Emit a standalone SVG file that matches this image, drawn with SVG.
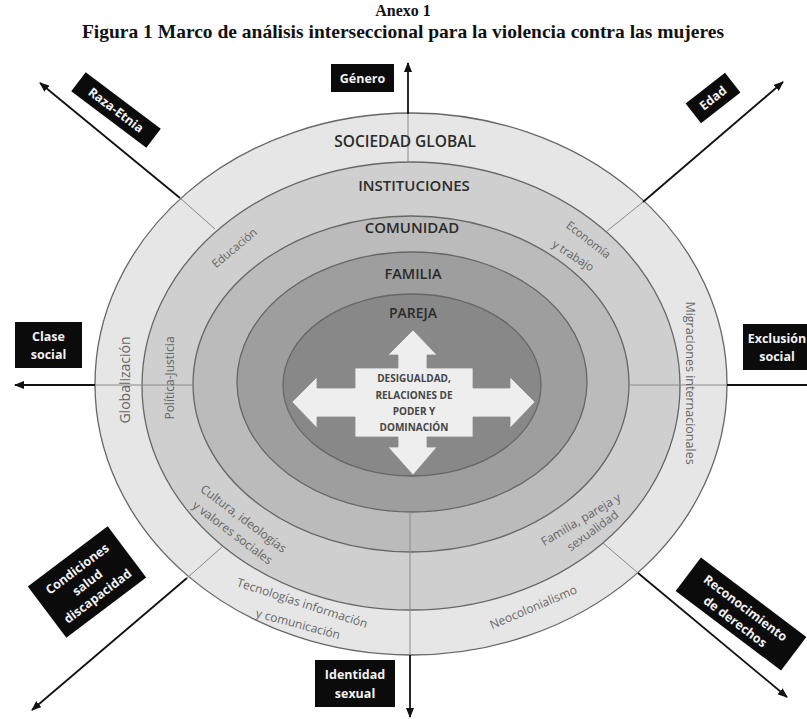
<svg xmlns="http://www.w3.org/2000/svg" width="807" height="719" viewBox="0 0 807 719">
<defs>
<marker id="ah" markerUnits="userSpaceOnUse" markerWidth="10" markerHeight="8" refX="9" refY="4" orient="auto">
<path d="M0,0 L10,4 L0,8 z" fill="#111"/>
</marker>
</defs>
<style>
.title{font-family:"Liberation Serif","Times New Roman",serif;font-weight:bold;fill:#111;text-anchor:middle}
.ring{fill-opacity:1;stroke:#666;stroke-width:1.3}
.lvl{font-family:"Open Sans","Liberation Sans",sans-serif;font-weight:600;fill:#2b2b2b;text-anchor:middle}
.sub{font-family:"Open Sans","Liberation Sans",sans-serif;fill:#666;text-anchor:middle}
.box{fill:#0b0b0b}
.bt{font-family:"Open Sans","Liberation Sans",sans-serif;font-weight:700;fill:#f2f2f2;text-anchor:middle;font-size:12.5px}
.arrow{stroke:#111;stroke-width:1.8;fill:none}
.sep{stroke:#8a8a8a;stroke-width:1;fill:none}
.ct{font-family:"Open Sans","Liberation Sans",sans-serif;font-weight:700;fill:#454545;text-anchor:middle;font-size:10px}
</style>
<rect width="807" height="719" fill="#ffffff"/>
<text class="title" x="403" y="16" font-size="16">Anexo 1</text>
<text class="title" x="403" y="38" font-size="19.5">Figura 1 Marco de análisis interseccional para la violencia contra las mujeres</text>

<g id="rings">
<ellipse id="sociedad-global" class="ring" cx="411" cy="384" rx="316" ry="271" fill="#e6e6e6"/>
<ellipse id="instituciones" class="ring" cx="411" cy="386" rx="269" ry="224" fill="#cfcfcf"/>
<ellipse id="comunidad" class="ring" cx="411" cy="384" rx="218" ry="168" fill="#bbbbbb"/>
<ellipse id="familia" class="ring" cx="412" cy="382" rx="175" ry="130" fill="#9e9e9e"/>
<ellipse id="pareja" class="ring" cx="412" cy="385" rx="129" ry="91" fill="#888888" stroke="#7c7c7c"/>
</g>

<g id="connectors">
<line class="sep" x1="408" y1="113" x2="408" y2="162"/>
<line class="sep" x1="180" y1="198" x2="215" y2="229"/>
<line class="sep" x1="643" y1="202" x2="607" y2="231"/>
<line class="sep" x1="95" y1="385" x2="193" y2="385"/>
<line class="sep" x1="727" y1="385" x2="630" y2="385"/>
<line class="sep" x1="187" y1="578" x2="222" y2="547"/>
<line class="sep" x1="410" y1="512" x2="410" y2="655"/>
<line class="sep" x1="638" y1="573" x2="603" y2="543"/>
<line class="arrow" x1="408" y1="114" x2="408" y2="63" marker-end="url(#ah)"/>
<line class="arrow" x1="180" y1="198" x2="40" y2="83" marker-end="url(#ah)"/>
<line class="arrow" x1="643" y1="202" x2="783" y2="82" marker-end="url(#ah)"/>
<line class="arrow" x1="95" y1="385" x2="15" y2="385" marker-end="url(#ah)"/>
<line class="arrow" x1="727" y1="385" x2="815" y2="385"/>
<line class="arrow" x1="187" y1="578" x2="32" y2="710" marker-end="url(#ah)"/>
<line class="arrow" x1="410" y1="655" x2="410" y2="717" marker-end="url(#ah)"/>
<line class="arrow" x1="638" y1="573" x2="787" y2="697" marker-end="url(#ah)"/>
</g>

<g id="ring-labels">
<text class="lvl" x="405" y="147" font-size="15.5">SOCIEDAD GLOBAL</text>
<text class="lvl" x="414" y="191" font-size="15">INSTITUCIONES</text>
<text class="lvl" x="412" y="233" font-size="15">COMUNIDAD</text>
<text class="lvl" x="413" y="279" font-size="14.5">FAMILIA</text>
<text class="lvl" x="413" y="318" font-size="14">PAREJA</text>
</g>

<g id="sub-labels">
<text class="sub" font-size="11.5" transform="translate(237,251) rotate(-40)">Educación</text>
<text class="sub" font-size="11.5" transform="translate(586,243) rotate(38)">Economía</text>
<text class="sub" font-size="11.5" transform="translate(571,259) rotate(33)">y trabajo</text>
<text class="sub" font-size="14" fill="#6a6a6a" transform="translate(130,380) rotate(-90)">Globalización</text>
<text class="sub" font-size="12" transform="translate(174,378) rotate(-90)">Política-Justicia</text>
<text class="sub" font-size="12.5" transform="translate(686,383) rotate(90)">Migraciones internacionales</text>
<text class="sub" font-size="12" transform="translate(241,522) rotate(37)">Cultura, ideologías</text>
<text class="sub" font-size="12" transform="translate(230,536) rotate(37)">y valores sociales</text>
<text class="sub" font-size="12" transform="translate(301,607) rotate(18)">Tecnologías información</text>
<text class="sub" font-size="12" transform="translate(297,628) rotate(15)">y comunicación</text>
<text class="sub" font-size="12" transform="translate(535,611) rotate(-23)">Neocolonialismo</text>
<text class="sub" font-size="12" transform="translate(583,523) rotate(-31)">Familia, pareja y</text>
<text class="sub" font-size="12" transform="translate(595,534) rotate(-36)">sexualidad</text>
</g>

<g id="center">
<path d="M413,330 L437,355 L427,355 L427,368 L473,368 L473,388 L510,388 L510,377 L535,402 L510,428 L510,417 L473,417 L473,437 L427,437 L427,447 L437,447 L413,475 L388,447 L398,447 L398,437 L355,437 L355,417 L317,417 L317,428 L292,402 L317,377 L317,388 L355,388 L355,368 L398,368 L398,355 L388,355 Z" fill="#eeeeee" stroke="#8a8a8a" stroke-width="0.8"/>
<text class="ct" x="414" y="382">DESIGUALDAD,</text>
<text class="ct" x="414" y="399">RELACIONES DE</text>
<text class="ct" x="414" y="415">PODER Y</text>
<text class="ct" x="414" y="431">DOMINACIÓN</text>
</g>

<g id="genero">
<rect class="box" x="331" y="64" width="63" height="28"/>
<text class="bt" x="362.5" y="82.5">Género</text>
</g>
<g id="raza-etnia" transform="translate(116,110) rotate(37)">
<rect class="box" x="-47" y="-12" width="94" height="24"/>
<text class="bt" x="0" y="4.5">Raza-Etnia</text>
</g>
<g id="edad" transform="translate(713,98) rotate(-38)">
<rect class="box" x="-25" y="-12.5" width="50" height="25"/>
<text class="bt" x="0" y="4.5">Edad</text>
</g>
<g id="clase-social">
<rect class="box" x="15" y="322" width="67" height="46"/>
<text class="bt" x="48.5" y="341" font-size="13">Clase</text>
<text class="bt" x="48.5" y="359" font-size="13">social</text>
</g>
<g id="exclusion-social">
<rect class="box" x="743" y="324" width="70" height="46"/>
<text class="bt" x="777" y="343" font-size="13">Exclusión</text>
<text class="bt" x="777" y="361" font-size="13">social</text>
</g>
<g id="condiciones" transform="translate(87,582) rotate(-37)">
<rect class="box" x="-50" y="-32" width="100" height="64"/>
<text class="bt" x="0" y="-12" font-size="13">Condiciones</text>
<text class="bt" x="0" y="5" font-size="13">salud</text>
<text class="bt" x="0" y="22" font-size="13">discapacidad</text>
</g>
<g id="identidad-sexual">
<rect class="box" x="315" y="660" width="80" height="47"/>
<text class="bt" x="355" y="679" font-size="13">Identidad</text>
<text class="bt" x="355" y="698" font-size="13">sexual</text>
</g>
<g id="reconocimiento" transform="translate(741,614) rotate(37)">
<rect class="box" x="-66" y="-21" width="132" height="42"/>
<text class="bt" x="0" y="-3" font-size="13">Reconocimiento</text>
<text class="bt" x="0" y="14" font-size="13">de derechos</text>
</g>
</svg>
